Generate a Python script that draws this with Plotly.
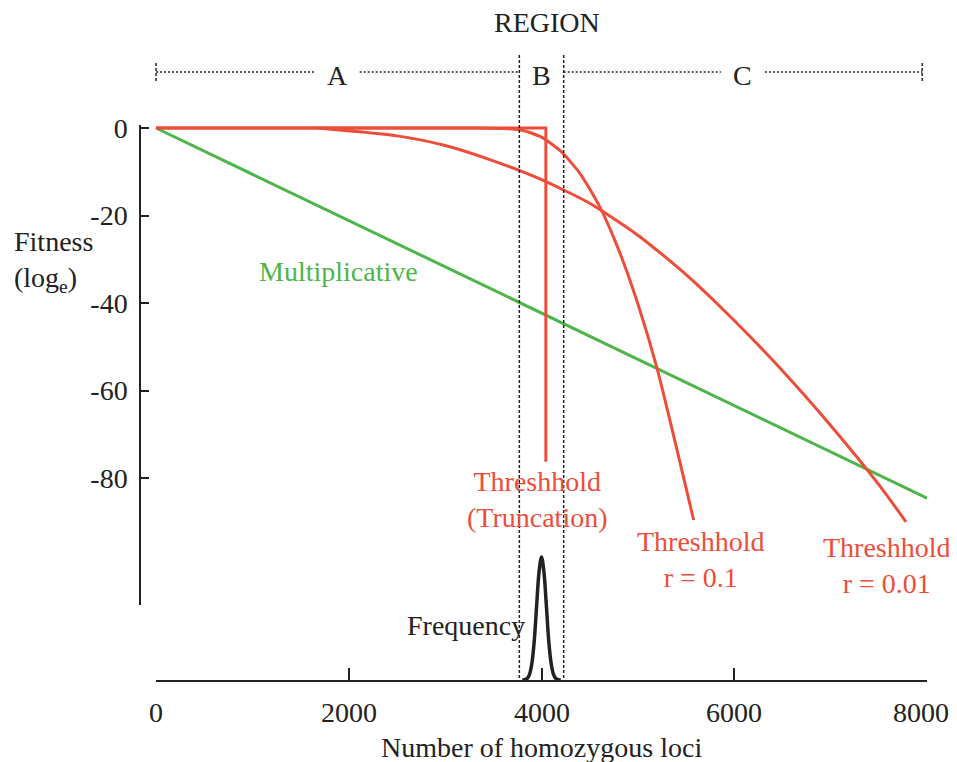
import plotly.graph_objects as go

# ---------------- data ----------------
mult_x = [0, 8000]
mult_y = [0, -84.6]

trunc_x = [0, 4045, 4045]
trunc_y = [0, 0, -76.3]

r01_x = [0, 3300, 3600, 3800, 4000, 4200, 4400, 4600, 4800, 5000, 5200, 5400, 5579]
r01_y = [0, 0, -0.1, -0.5, -2.1, -5.3, -10.4, -17.8, -27.8, -40.2, -55.0, -73.0, -89.6]

r001_x = [1683, 2500, 3000, 3500, 4000, 4500, 5000, 5500, 6000, 6500, 7000, 7500, 7782]
r001_y = [0, -1.8, -4.0, -7.5, -11.8, -17.2, -24.5, -33.5, -44.0, -55.5, -68.0, -81.5, -90.0]

freq_x = [3800, 3825, 3850, 3875, 3900, 3925, 3950, 3975, 4000,
          4025, 4050, 4075, 4100, 4125, 4150, 4175, 4200]
freq_y = [0, 0.002, 0.011, 0.044, 0.135, 0.32, 0.61, 0.88, 1.0,
          0.88, 0.61, 0.32, 0.135, 0.044, 0.011, 0.002, 0]

region_bounds = [0, 3770, 4230, 7950]
region_labels = ["A", "B", "C"]

y_ticks = [0, -20, -40, -60, -80]
y_tick_text = ["0", "-20", "-40", "-60", "-80"]
x_ticks = [0, 2000, 4000, 6000, 8000]
x_tick_text = ["0", "2000", "4000", "6000", "8000"]

# ---------------- style ----------------
W, H = 957, 762
OFF = 8  # page body margin
RED = "#EE4D3A"
GREEN = "#4CB648"
INK = "#222222"
FONT = "Liberation Serif"
FS = 28


def px(xpix):
    return (xpix - OFF) / W


def py(ypix):
    return 1 - (ypix - OFF) / H


fig = go.Figure()

fig.add_trace(go.Scatter(x=mult_x, y=mult_y, mode="lines",
                         line=dict(color=GREEN, width=3), xaxis="x", yaxis="y"))
fig.add_trace(go.Scatter(x=r001_x, y=r001_y, mode="lines",
                         line=dict(color=RED, width=3, shape="spline", smoothing=0.6),
                         xaxis="x", yaxis="y"))
fig.add_trace(go.Scatter(x=r01_x, y=r01_y, mode="lines",
                         line=dict(color=RED, width=3, shape="spline", smoothing=0.6),
                         xaxis="x", yaxis="y"))
fig.add_trace(go.Scatter(x=trunc_x, y=trunc_y, mode="lines",
                         line=dict(color=RED, width=3), xaxis="x", yaxis="y"))
fig.add_trace(go.Scatter(x=freq_x, y=freq_y, mode="lines",
                         line=dict(color=INK, width=3.5, shape="spline"),
                         xaxis="x2", yaxis="y2"))

# pixel scale of the top plot
x0_pix, x8000_pix = 156, 927
sx = (x8000_pix - x0_pix) / 8000.0
ytop_range = 0.6
ybot_range = -109.0
ypix0 = 128
syy = 4.375
top_pix = ypix0 - ytop_range * syy
bot_pix = ypix0 - ybot_range * syy

fig.update_layout(
    template="none",
    width=W, height=H,
    autosize=False,
    margin=dict(l=0, r=0, t=0, b=0, pad=0),
    paper_bgcolor="white", plot_bgcolor="rgba(0,0,0,0)",
    showlegend=False,
    font=dict(family=FONT, size=FS, color=INK),
    xaxis=dict(domain=[px(141), px(927)],
               range=[(141 - x0_pix) / sx, 8000],
               visible=False, anchor="y", automargin=False),
    yaxis=dict(domain=[py(bot_pix), py(top_pix)],
               range=[ybot_range, ytop_range],
               anchor="x", automargin=False,
               tickvals=y_ticks, ticktext=y_tick_text,
               ticks="inside", ticklen=8, tickwidth=1.5, tickcolor=INK,
               showline=True, linewidth=1.5, linecolor=INK,
               showgrid=False, zeroline=False,
               ticklabelstandoff=6,
               tickfont=dict(family=FONT, size=FS, color=INK)),
    xaxis2=dict(domain=[px(x0_pix), px(x8000_pix)], range=[0, 8000],
                anchor="y2", automargin=False,
                tickvals=x_ticks, showticklabels=False,
                ticks="inside", ticklen=12, tickwidth=1.5, tickcolor=INK,
                showline=True, linewidth=1.5, linecolor=INK,
                showgrid=False, zeroline=False),
    yaxis2=dict(domain=[py(680), py(550)],
                range=[0, (680 - 550) / (680 - 557)],
                anchor="x2", visible=False, automargin=False),
)

shapes = []
# vertical dotted region boundaries (B)
for xb in region_bounds[1:3]:
    shapes.append(dict(type="line", xref="x", yref="paper",
                       x0=xb, x1=xb, y0=py(55), y1=py(680),
                       line=dict(color=INK, width=1.5, dash="3px,2px")))
# end ticks of the region bracket
for xb in [region_bounds[0], region_bounds[3]]:
    shapes.append(dict(type="line", xref="x", yref="paper",
                       x0=xb, x1=xb, y0=py(63), y1=py(81),
                       line=dict(color=INK, width=1.5, dash="3px,2px")))
# horizontal bracket segments with gaps for labels
gap = 22 / sx
for i in range(3):
    a, b = region_bounds[i], region_bounds[i + 1]
    c = (a + b) / 2
    if i == 1:
        continue
    for s0, s1 in [(a, c - gap), (c + gap, b)]:
        shapes.append(dict(type="line", xref="x", yref="paper",
                           x0=s0, x1=s1, y0=py(72), y1=py(72),
                           line=dict(color=INK, width=1.5, dash="2px,2px")))
fig.update_layout(shapes=shapes)


def note(x, y, text, xref, yref, color=INK, xanchor="center", align="center", xshift=0):
    return dict(x=x, y=y, xref=xref, yref=yref, text=text, showarrow=False,
                xanchor=xanchor, yanchor="middle", align=align, xshift=xshift,
                font=dict(family=FONT, size=FS, color=color))


ann = []
# x tick labels of the frequency/bottom axis
for i, (tv, tt) in enumerate(zip(x_ticks, x_tick_text)):
    shift = -6 if i == len(x_ticks) - 1 else 0
    ann.append(note(tv, py(712), tt, "x2", "paper", xshift=shift))
for i, lab in enumerate(region_labels):
    c = (region_bounds[i] + region_bounds[i + 1]) / 2
    ann.append(note(c, py(75), lab, "x", "paper"))
ann.append(note(px(547), py(22), "REGION", "paper", "paper"))
ann.append(note(px(12), py(262), "Fitness<br>(log<sub>e</sub>)", "paper", "paper",
                xanchor="left", align="left"))
ann.append(note(1891, -32.7, "Multiplicative", "x", "y", color=GREEN))
ann.append(note(3958, -85, "Threshhold<br>(Truncation)", "x", "y", color=RED))
ann.append(note(5652, -98.7, "Threshhold<br>r = 0.1", "x", "y", color=RED))
ann.append(note(7647, -100, "Threshhold<br>r = 0.01", "x", "y", color=RED, xshift=-6))
ann.append(note(3221, py(625), "Frequency", "x", "paper"))
ann.append(note(px(541), py(747), "Number of homozygous loci", "paper", "paper"))
fig.update_layout(annotations=ann)

fig.write_html("out.html")
